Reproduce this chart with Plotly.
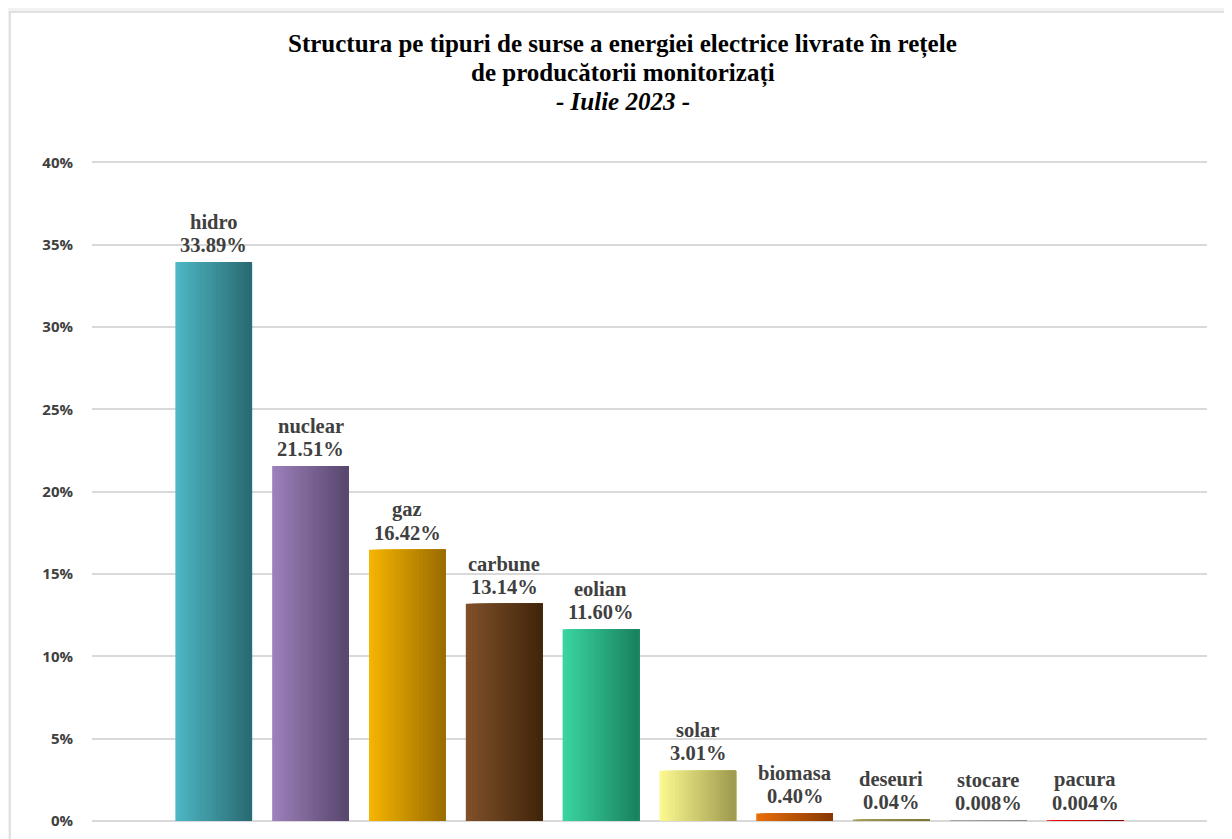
import plotly.graph_objects as go

categories = ["hidro", "nuclear", "gaz", "carbune", "eolian", "solar",
              "biomasa", "deseuri", "stocare", "pacura"]
shares = [0.3389, 0.2151, 0.1642, 0.1314, 0.1160, 0.0301,
          0.0040, 0.0004, 0.00008, 0.00004]
share_labels = ["33.89%", "21.51%", "16.42%", "13.14%", "11.60%", "3.01%",
                "0.40%", "0.04%", "0.008%", "0.004%"]
y_ticks = [0, 0.05, 0.10, 0.15, 0.20, 0.25, 0.30, 0.35, 0.40]
title_lines = ["<b>Structura pe tipuri de surse a energiei electrice livrate în rețele</b>",
               "<b>de producătorii monitorizați</b>",
               "<b><i>- Iulie 2023 -</i></b>"]

# light (left) -> dark (right) colour pairs for the gradient look
light_cols = ["#4DB6C4", "#9C80BA", "#F4B400", "#80502A", "#3AD4A0",
              "#FBF890", "#E86E0C", "#A49A55", "#A8A8A8", "#FF0A0A"]
dark_cols = ["#2B6C74", "#5A4870", "#9C6E00", "#43260C", "#1A8460",
             "#A09C50", "#8A3A00", "#7E7432", "#8A8A8A", "#8A0000"]


def hex2rgb(h):
    h = h.lstrip("#")
    return tuple(int(h[i:i + 2], 16) for i in (0, 2, 4))


def mix(c1, c2, t):
    a, b = hex2rgb(c1), hex2rgb(c2)
    return "rgb({},{},{})".format(*[round(a[i] + (b[i] - a[i]) * t) for i in range(3)])


N = 24
bar_w = 0.775
strip = bar_w / N
xs = list(range(len(categories)))

fig = go.Figure()
for k in range(N):
    t = k / (N - 1)
    cols = [mix(light_cols[i], dark_cols[i], t) for i in range(len(categories))]
    fig.add_trace(go.Bar(
        x=xs,
        y=shares,
        offset=-bar_w / 2 + k * strip,
        width=bar_w - k * strip,
        marker=dict(color=cols, line=dict(width=1.6, color=cols)),
        hoverinfo="skip",
        showlegend=False,
    ))

label_font = dict(family="Liberation Serif", size=20.5, color="#404040")
annotations = []
for i, (c, lab) in enumerate(zip(categories, share_labels)):
    annotations.append(dict(x=i, y=shares[i], xref="x", yref="y",
                            text="<b>{}</b>".format(lab), showarrow=False,
                            yanchor="middle", yshift=18, font=label_font))
    annotations.append(dict(x=i, y=shares[i], xref="x", yref="y",
                            text="<b>{}</b>".format(c), showarrow=False,
                            yanchor="middle", yshift=41, font=label_font))

title_y = [1.1737, 1.1299, 1.0876]
for line, yy in zip(title_lines, title_y):
    annotations.append(dict(x=0.4762, y=yy, xref="paper", yref="paper",
                            text=line, showarrow=False, xanchor="center",
                            yanchor="middle",
                            font=dict(family="Liberation Serif", size=25, color="black")))

fig.update_layout(
    width=1232, height=839,
    barmode="overlay",
    paper_bgcolor="#F2F2F2",
    plot_bgcolor="white",
    margin=dict(l=84, r=33, t=151, b=26),
    xaxis=dict(range=[-1.257, 10.26], showticklabels=False, showgrid=False,
               zeroline=False, showline=False, ticks=""),
    yaxis=dict(range=[0, 0.402], tickvals=y_ticks, tickformat=".0%",
               showgrid=True, gridcolor="#D9D9D9", gridwidth=1.5,
               zeroline=True, zerolinecolor="#D9D9D9", zerolinewidth=1.5,
               showline=False, ticks="", ticklabelstandoff=18,
               tickfont=dict(family="Open Sans", size=15, color="#404040", weight="bold")),
    annotations=annotations,
    shapes=[dict(type="rect", xref="paper", yref="paper",
                 x0=(2 - 84) / 1115, x1=1.05, y0=-0.05, y1=(813 - 4) / 662,
                 fillcolor="white", line=dict(color="#D9D9D9", width=1.5),
                 layer="below")],
)

fig.write_html("out.html")
